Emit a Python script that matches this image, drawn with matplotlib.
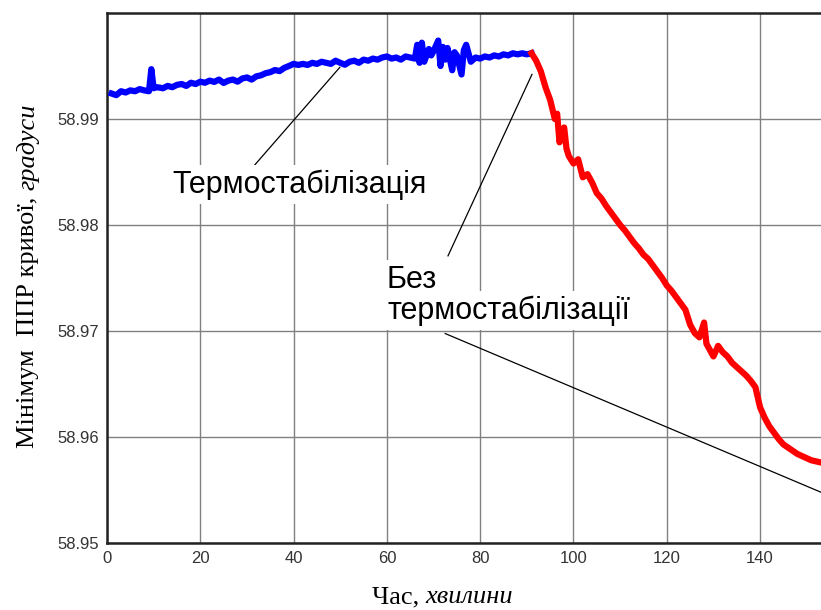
import matplotlib
matplotlib.use('Agg')
import matplotlib.pyplot as plt

# blue part (with thermostabilisation), minutes and angle in degrees
t_blue = [1, 2, 3, 4, 5, 6, 7, 8, 9, 9.5, 10, 10.5, 11, 12, 13, 14, 15, 16, 17, 18, 19, 20,
          21, 22, 23, 24, 25, 26, 27, 28, 29, 30, 31, 32, 33, 34, 35, 36, 37, 38, 39, 40,
          41, 42, 43, 44, 45, 46, 47, 48, 49, 50, 51, 52, 53, 54, 55, 56, 57, 58, 59, 60,
          61, 62, 63, 64, 65, 66, 66.5, 67, 67.5, 68, 69, 69.5, 70, 71, 71.5, 72, 72.5, 73,
          74, 74.5, 75, 76, 76.5, 77, 78, 79, 80, 81, 82, 83, 84, 85, 86, 87, 88, 89, 90, 91]
a_blue = [58.99240, 58.99225, 58.99262, 58.99250, 58.99270, 58.99262, 58.99282, 58.99270,
          58.99262, 58.99470, 58.99290, 58.99300, 58.99298, 58.99290, 58.99312, 58.99300,
          58.99322, 58.99330, 58.99312, 58.99342, 58.99330, 58.99352, 58.99342, 58.99362,
          58.99350, 58.99372, 58.99340, 58.99362, 58.99372, 58.99352, 58.99382, 58.99392,
          58.99372, 58.99402, 58.99412, 58.99432, 58.99442, 58.99462, 58.99452, 58.99482,
          58.99500, 58.99520, 58.99510, 58.99520, 58.99510, 58.99530, 58.99520, 58.99540,
          58.99530, 58.99520, 58.99550, 58.99530, 58.99512, 58.99540, 58.99550, 58.99530,
          58.99560, 58.99550, 58.99570, 58.99560, 58.99580, 58.99590, 58.99570, 58.99580,
          58.99560, 58.99590, 58.99580, 58.99570, 58.99700, 58.99530, 58.99720, 58.99540,
          58.99660, 58.99600, 58.99640, 58.99740, 58.99500, 58.99680, 58.99560, 58.99670,
          58.99460, 58.99630, 58.99600, 58.99420, 58.99650, 58.99700, 58.99540, 58.99580,
          58.99570, 58.99590, 58.99580, 58.99600, 58.99590, 58.99610, 58.99600, 58.99620,
          58.99610, 58.99620, 58.99610, 58.99620]

# red part (without thermostabilisation)
t_red = [91, 92, 93, 94, 95, 96, 96.5, 97, 98, 98.5, 99, 100, 101, 102, 103, 104, 105, 106,
         107, 108, 109, 110, 111, 112, 113, 114, 115, 116, 117, 118, 119, 120, 121, 122, 123,
         124, 125, 126, 127, 128, 128.5, 129, 130, 131, 132, 133, 134, 135, 136, 137, 138,
         139, 140, 141, 142, 143, 144, 145, 146, 147, 148, 149, 150, 151, 152, 153]
a_red = [58.99620, 58.99550, 58.99450, 58.99300, 58.99180, 58.99000, 58.99050, 58.98780,
         58.98920, 58.98720, 58.98650, 58.98580, 58.98620, 58.98450, 58.98480, 58.98400,
         58.98300, 58.98250, 58.98180, 58.98120, 58.98060, 58.98000, 58.97950, 58.97890,
         58.97830, 58.97780, 58.97720, 58.97680, 58.97620, 58.97560, 58.97500, 58.97430,
         58.97380, 58.97320, 58.97260, 58.97200, 58.97060, 58.96980, 58.96940, 58.97080,
         58.96880, 58.96840, 58.96760, 58.96860, 58.96800, 58.96760, 58.96700, 58.96660,
         58.96620, 58.96580, 58.96530, 58.96470, 58.96280, 58.96180, 58.96100, 58.96040,
         58.95980, 58.95930, 58.95900, 58.95870, 58.95840, 58.95820, 58.95800, 58.95780,
         58.95770, 58.95760]

xticks = [0, 20, 40, 60, 80, 100, 120, 140]
yticks = [58.95, 58.96, 58.97, 58.98, 58.99]
ytick_labels = ['58.95', '58.96', '58.97', '58.98', '58.99']

fig = plt.figure(figsize=(8.21, 6.10), dpi=100)
ax = fig.add_axes([107/821, 67/610, 714/821, 530/610])

ax.plot(t_blue, a_blue, color='#0000ff', lw=4.5, zorder=3)
ax.plot(t_red, a_red, color='#ff0000', lw=4.5, zorder=3)

ax.set_xlim(0, 153.06)
ax.set_ylim(58.95, 59.0)
ax.set_xticks(xticks)
ax.set_yticks(yticks)
ax.set_yticklabels(ytick_labels)
ax.grid(True, color='#808080', lw=1)
ax.set_axisbelow(True)
ax.tick_params(length=0, labelsize=12, labelcolor='#333333', pad=6)
for lab in ax.get_xticklabels() + ax.get_yticklabels():
    lab.set_family('Liberation Sans')
ax.spines['right'].set_visible(False)
for s in ['top', 'left', 'bottom']:
    ax.spines[s].set_linewidth(1.8)
    ax.spines[s].set_color('#222222')

# annotations with leader lines
ax.plot([29.9, 49.9], [58.98477, 58.99487], color='black', lw=0.9, zorder=4)
ax.plot([73.1, 91.1], [58.97709, 58.99421], color='black', lw=0.9, zorder=4)
ax.plot([72.5, 160], [58.96976, 58.95350], color='black', lw=0.9, zorder=4)

box = dict(facecolor='white', edgecolor='none', pad=3)
ax.text(14.1, 58.98302, 'Термостабілізація', family='Liberation Sans', fontsize=22,
        va='baseline', bbox=box, zorder=5)
ax.text(60.0, 58.97408, 'Без', family='Liberation Sans', fontsize=22,
        va='baseline', bbox=box, zorder=5)
ax.text(60.2, 58.97117, 'термостабілізації', family='Liberation Sans', fontsize=22,
        va='baseline', bbox=box, zorder=5)

# axis titles, italic part drawn separately
fig.canvas.draw()
r = fig.canvas.get_renderer()
yl = fig.text(34/821, 1 - 448/610, 'Мінімум  ППР кривої, ', family='Liberation Serif',
              fontsize=19, rotation=90, rotation_mode='anchor', ha='left', va='baseline')
bb = yl.get_window_extent(r)
fig.text(34/821, bb.y1/610, 'градуси', family='Liberation Serif', style='italic',
         fontsize=19, rotation=90, rotation_mode='anchor', ha='left', va='baseline')

xl = fig.text(372/821, 1 - 603/610, 'Час, ', family='Liberation Serif', fontsize=19,
              ha='left', va='baseline')
bb = xl.get_window_extent(r)
fig.text(bb.x1/821, 1 - 603/610, 'хвилини', family='Liberation Serif', style='italic',
         fontsize=19, ha='left', va='baseline')

fig.savefig('out.png', dpi=100)
